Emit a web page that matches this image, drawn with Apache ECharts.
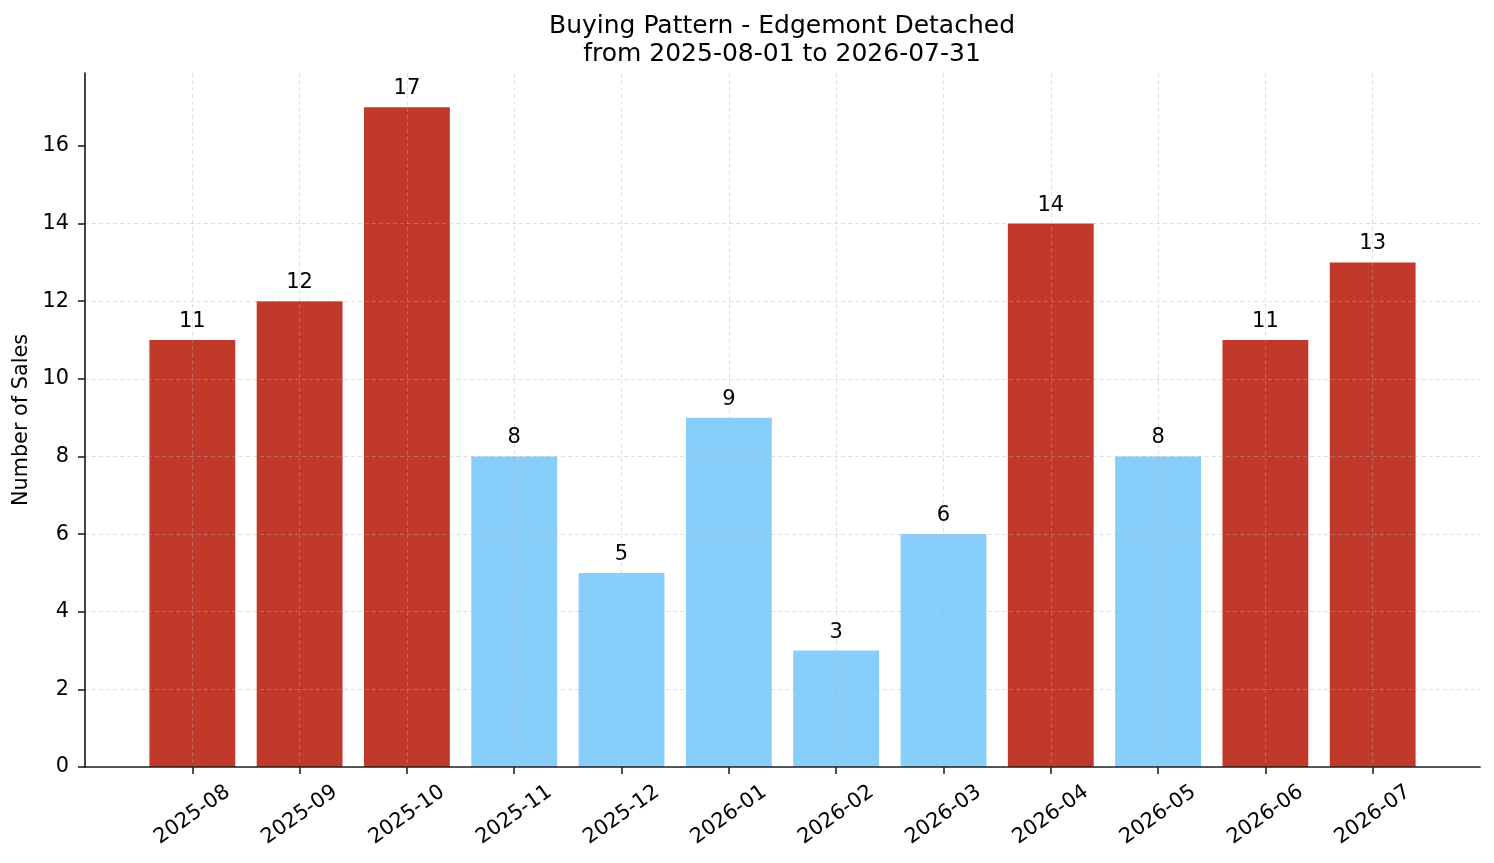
<!DOCTYPE html>
<html>
<head>
<meta charset="utf-8">
<script src="https://cdn.jsdelivr.net/npm/echarts@6/dist/echarts.min.js"></script>
<style>
  html, body { margin: 0; padding: 0; background: #fff; }
  #chart { width: 1494px; height: 863px; }
</style>
</head>
<body>
<div id="chart"></div>
<script>
// monthly sales counts
const months = ['2025-08', '2025-09', '2025-10', '2025-11', '2025-12', '2026-01',
                '2026-02', '2026-03', '2026-04', '2026-05', '2026-06', '2026-07'];
const sales = [11, 12, 17, 8, 5, 9, 3, 6, 14, 8, 11, 13];
const yTicks = [0, 2, 4, 6, 8, 10, 12, 14, 16];

const RED = '#c0392b';
const BLUE = '#87cefa';
const FONT = 'DejaVu Sans';

// one empty slot each side so the bars sit like matplotlib's margins
const cats = [''].concat(months, ['']);
const data = [null].concat(sales, [null]);
const inner = function(idx) { return idx > 0 && idx < cats.length - 1; };

var chart = echarts.init(document.getElementById('chart'));
var gridLine = { show: true, lineStyle: { color: 'rgba(176,176,176,0.5)', width: 0.8, type: [4, 3] } };

option = {
    animation: false,
    backgroundColor: '#fff',
    textStyle: { fontFamily: FONT },
    title: {
        text: 'Buying Pattern - Edgemont Detached\nfrom 2025-08-01 to 2026-07-31',
        left: 777,
        top: 7,
        textAlign: 'center',
        textStyle: {
            fontFamily: FONT,
            fontSize: 25,
            fontWeight: 'normal',
            color: '#000',
            lineHeight: 28
        }
    },
    grid: { left: 85, right: 14, top: 73, bottom: 96 },
    xAxis: {
        type: 'category',
        data: cats,
        boundaryGap: false,
        z: 3,
        axisLine: { lineStyle: { color: '#222', width: 1.7 } },
        axisTick: { length: 7, lineStyle: { color: '#222', width: 1.6 }, interval: inner },
        axisLabel: {
            interval: inner,
            rotate: 35,
            align: 'center',
            verticalAlign: 'middle',
            margin: 48,
            fontSize: 20.8,
            color: '#000',
            fontFamily: FONT
        },
        splitLine: Object.assign({ interval: inner }, gridLine)
    },
    yAxis: {
        type: 'value',
        min: 0,
        max: 17.88,
        z: 3,
        name: 'Number of Sales',
        nameLocation: 'middle',
        nameGap: 46,
        nameTextStyle: { fontSize: 20.8, color: '#000', fontFamily: FONT },
        axisLine: { show: true, lineStyle: { color: '#222', width: 1.7 } },
        axisTick: { show: true, length: 7, lineStyle: { color: '#222', width: 1.6 }, customValues: yTicks },
        axisLabel: { fontSize: 20.8, color: '#000', margin: 16, fontFamily: FONT, customValues: yTicks },
        splitLine: Object.assign({ showMaxLine: false }, gridLine)
    },
    series: [{
        type: 'bar',
        data: data,
        barWidth: '80%',
        z: 2,
        itemStyle: {
            color: function(p) { return p.value >= 10 ? RED : BLUE; }
        },
        label: {
            show: true,
            position: 'top',
            distance: 8,
            fontSize: 21,
            color: '#000',
            fontFamily: FONT
        }
    }]
};
chart.setOption(option);
</script>
</body>
</html>
